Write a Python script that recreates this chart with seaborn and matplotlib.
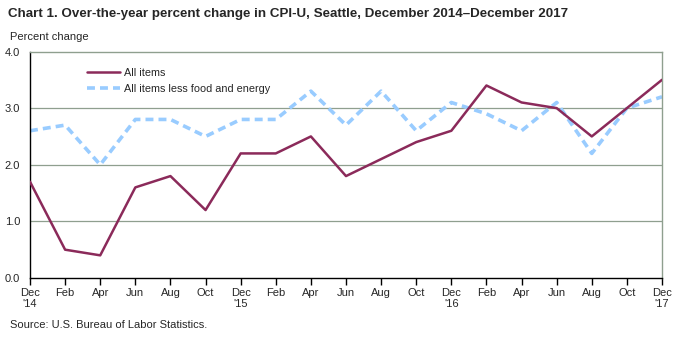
import matplotlib
matplotlib.use("Agg")
import matplotlib.pyplot as plt
import seaborn as sns
import pandas as pd

months = ["Dec\n'14", "Feb", "Apr", "Jun", "Aug", "Oct",
          "Dec\n'15", "Feb", "Apr", "Jun", "Aug", "Oct",
          "Dec\n'16", "Feb", "Apr", "Jun", "Aug", "Oct", "Dec\n'17"]
all_items = [1.7, 0.5, 0.4, 1.6, 1.8, 1.2, 2.2, 2.2, 2.5, 1.8, 2.1, 2.4,
             2.6, 3.4, 3.1, 3.0, 2.5, 3.0, 3.5]
core = [2.6, 2.7, 2.0, 2.8, 2.8, 2.5, 2.8, 2.8, 3.3, 2.7, 3.3, 2.6,
        3.1, 2.9, 2.6, 3.1, 2.2, 3.0, 3.2]
yticks = [0.0, 1.0, 2.0, 3.0, 4.0]

sns.set_theme(style="white")
plt.rcParams['font.family'] = ['Liberation Sans', 'DejaVu Sans']

idx = list(range(len(months)))
df = pd.DataFrame({"pos": idx + idx,
                   "value": all_items + core,
                   "series": ["All items"] * len(idx) + ["All items less food and energy"] * len(idx)})

fig = plt.figure(figsize=(6.81, 3.37), dpi=100)
ax = fig.add_axes([30/681, 1-278/337, (662-30)/681, (278-51.5)/337])

grid_c = "#8f9f8f"
for y in yticks[1:4]:
    ax.axhline(y, color=grid_c, lw=0.9, zorder=0)

sns.lineplot(data=df, x="pos", y="value", hue="series", style="series",
             palette={"All items": "#8b2a5a", "All items less food and energy": "#99ccff"},
             dashes={"All items": "", "All items less food and energy": (2.2, 1.4)},
             ax=ax, legend=False)
lines = ax.get_lines()[-2:]
lines[0].set_linewidth(1.8)
lines[1].set_linewidth(2.6)
lines[1].set_zorder(2)
lines[0].set_zorder(3)

ax.set_xlim(0, len(months) - 1)
ax.set_ylim(0, 4)
ax.set_xticks(idx)
ax.set_xticklabels(months, fontsize=8)
ax.set_yticks(yticks)
ax.set_yticklabels([f"{v:.1f}" for v in yticks], fontsize=8)
ax.tick_params(axis="x", direction="out", length=5, width=1, color="black", pad=2, bottom=True)
ax.tick_params(axis="y", length=0, pad=7)
ax.set_xlabel("")
ax.set_ylabel("")
for s in ["left", "bottom"]:
    ax.spines[s].set_color("black")
    ax.spines[s].set_linewidth(1.0)
for s in ["top", "right"]:
    ax.spines[s].set_visible(True)
    ax.spines[s].set_color(grid_c)
    ax.spines[s].set_linewidth(1.0)

from matplotlib.lines import Line2D
handles = [Line2D([], [], color="#8b2a5a", lw=1.8),
           Line2D([], [], color="#99ccff", lw=2.6, dashes=(2.2, 1.4))]
ax.legend(handles, ["All items", "All items less food and energy"],
          loc="upper left", bbox_to_anchor=(0.075, 0.97), frameon=False,
          fontsize=7.8, handlelength=3.0, handletextpad=0.4, labelspacing=0.55)

fig.text(8/681, 1-14/337, "Chart 1. Over-the-year percent change in CPI-U, Seattle, December 2014\u2013December 2017",
         fontsize=9.6, fontweight="bold", va="center", ha="left")
fig.text(10/681, 1-37/337, "Percent change", fontsize=8, va="center", ha="left")
fig.text(10/681, 1-325/337, "Source: U.S. Bureau of Labor Statistics.", fontsize=8, va="center", ha="left")

fig.savefig("out.png", dpi=100)
